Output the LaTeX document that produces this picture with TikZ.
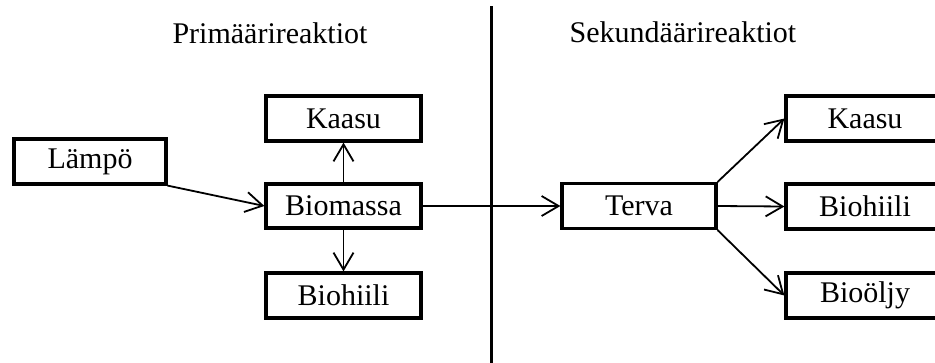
\documentclass[tikz,border=0pt]{standalone}
\usepackage{fontspec}
\setmainfont{Liberation Serif}
\usetikzlibrary{arrows.meta}
\begin{document}
\begin{tikzpicture}[x=1pt,y=-1pt,
  box/.style={draw, line width=3.2pt, minimum width=155pt, minimum height=45pt,
    inner sep=0pt, font=\fontsize{30}{36}\selectfont},
  title/.style={inner sep=0pt, font=\fontsize{30}{36}\selectfont},
  flow/.style={line width=1.8pt, -{Straight Barb[length=17pt,width=20pt,line width=1.8pt]}},
  divider/.style={line width=3pt}]
  \useasboundingbox (0,0) rectangle (935,362);
  \clip (0,0) rectangle (935,362);

  % section titles
  \node[title] (tprim) at (270,33) {Primäärireaktiot};
  \node[title] (tsek) at (683,32) {Sekundäärireaktiot};

  % divider between primary and secondary reactions
  \coordinate (dtop) at (491,6);
  \coordinate (dbot) at (491,365);
  \draw[divider] (dtop) -- (dbot);

  % primary reactions
  \node[box, minimum width=152pt] (lampo) at (90,161.5) {Lämpö};
  \node[box] (kaasu1) at (343.5,118.5) {Kaasu};
  \node[box, minimum height=44pt] (biomassa) at (343.5,206) {Biomassa};
  \node[box] (biohiili1) at (343.5,295.5) {Biohiili};

  % secondary reactions
  \node[box, minimum width=154pt] (terva) at (639,206) {Terva};
  \node[box, minimum width=158pt] (kaasu2) at (865,118.5) {Kaasu};
  \node[box, minimum width=158pt] (biohiili2) at (865,206.5) {Biohiili};
  \node[box, minimum width=158pt] (bioolju) at (865,295.5) {Bioöljy};

  % connectors
  \draw[flow] (lampo.south east) -- (biomassa.west);
  \draw[flow] (biomassa.north) -- (kaasu1.south);
  \draw[flow] (biomassa.south) -- (biohiili1.north);
  \draw[flow] (biomassa.east) -- (terva.west);
  \draw[flow] (terva.north east) -- (kaasu2.west);
  \draw[flow] (terva.east) -- (biohiili2.west);
  \draw[flow] (terva.south east) -- (bioolju.west);
\end{tikzpicture}
\end{document}
